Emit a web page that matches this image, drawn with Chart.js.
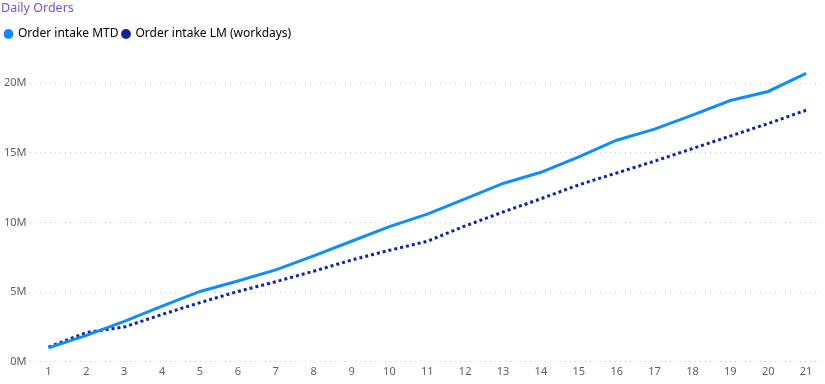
<!DOCTYPE html>
<html>
<head>
<meta charset="utf-8">
<script src="https://cdn.jsdelivr.net/npm/chart.js@4"></script>
<style>
  html, body { margin: 0; padding: 0; background: #fff; }
  #wrap { width: 825px; height: 384px; }
</style>
</head>
<body>
<div id="wrap"><canvas id="myChart"></canvas></div>
<script>
let days = ["1","2","3","4","5","6","7","8","9","10","11","12","13","14","15","16","17","18","19","20","21"]
let mtd = [1.0, 1.9, 2.9, 4.0, 5.05, 5.8, 6.6, 7.6, 8.65, 9.7, 10.6, 11.7, 12.8, 13.6, 14.7, 15.9, 16.7, 17.7, 18.75, 19.4, 20.7]
let lastMonth = [1.05, 2.1, 2.5, 3.4, 4.25, 5.05, 5.75, 6.5, 7.3, 8.0, 8.65, 9.75, 10.75, 11.7, 12.7, 13.55, 14.4, 15.3, 16.2, 17.1, 18.05]
let yTicks = [0, 5, 10, 15, 20]

Chart.defaults.font.family = "'Noto Sans', sans-serif"

// a bit of space under the legend
const legendGap = {
    id: "legendGap",
    beforeInit(chart) {
        const fit = chart.legend.fit
        chart.legend.fit = function () {
            fit.bind(chart.legend)()
            this.height += 15
        }
    }
}

new Chart("myChart", {
    type: "line",
    data: {
        labels: days,
        datasets: [
            {
                label: "Order intake MTD",
                data: mtd.map(v => v * 1e6),
                borderColor: "#118DFF",
                backgroundColor: "#118DFF",
                borderWidth: 3,
                pointRadius: 0,
                tension: 0
            },
            {
                label: "Order intake LM (workdays)",
                data: lastMonth.map(v => v * 1e6),
                borderColor: "#12239E",
                backgroundColor: "#12239E",
                borderWidth: 3,
                borderDash: [3, 3],
                pointRadius: 0,
                tension: 0
            }
        ]
    },
    plugins: [legendGap],
    options: {
        responsive: true,
        maintainAspectRatio: false,
        animation: false,
        layout: { padding: { left: 1, right: 0, top: 0, bottom: 3 } },
        plugins: {
            title: {
                display: true,
                text: "Daily Orders",
                align: "start",
                color: "#7B4FCB",
                font: { size: 12.5, weight: "normal" },
                padding: { top: 1, bottom: 8 }
            },
            legend: {
                align: "start",
                labels: {
                    usePointStyle: true,
                    boxWidth: 7,
                    boxHeight: 7,
                    padding: 4,
                    color: "#252423",
                    font: { size: 12 },
                    generateLabels: chart => chart.data.datasets.map((ds, i) => ({
                        text: ds.label,
                        fillStyle: ds.borderColor,
                        strokeStyle: ds.borderColor,
                        lineWidth: 0,
                        pointStyle: "circle",
                        datasetIndex: i
                    }))
                }
            },
            tooltip: { enabled: false }
        },
        scales: {
            x: {
                offset: true,
                grid: { display: false, drawTicks: false },
                border: { display: false },
                ticks: { color: "#605E5C", font: { size: 11 }, maxRotation: 0, autoSkip: false, padding: 3 }
            },
            y: {
                min: 0,
                max: 21300000,
                afterBuildTicks: axis => {
                    axis.ticks = yTicks.map(v => ({ value: v * 1e6 }))
                },
                grid: { color: "#C8C6C4", lineWidth: 1, drawTicks: false },
                border: { display: false, dash: [1, 4] },
                ticks: {
                    color: "#605E5C",
                    font: { size: 11 },
                    padding: 3,
                    callback: v => (v / 1e6) + "M"
                }
            }
        }
    }
})
</script>
</body>
</html>
